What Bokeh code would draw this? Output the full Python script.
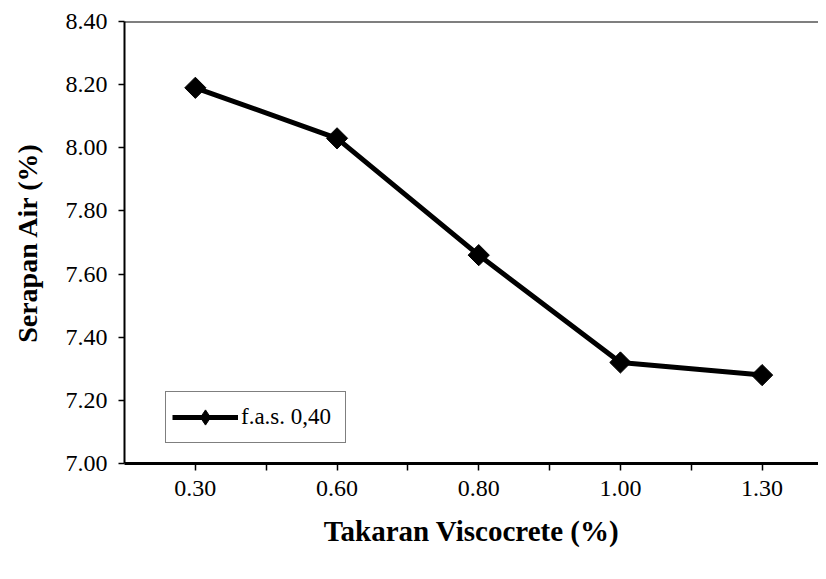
import math
from bokeh.plotting import figure
from bokeh.models import (ColumnDataSource, FixedTicker, Range1d, Legend, LegendItem, Span)
from bokeh.embed import file_html
from bokeh.resources import INLINE

# data
takaran = ["0.30", "0.60", "0.80", "1.00", "1.30"]
serapan = [8.19, 8.03, 7.66, 7.32, 7.28]
y_ticks = [7.00, 7.20, 7.40, 7.60, 7.80, 8.00, 8.20, 8.40]
series_name = "f.a.s. 0,40"
x_title = "Takaran Viscocrete (%)"
y_title = "Serapan Air (%)"

FONT = "Liberation Serif"

pos = list(range(len(takaran)))
src = ColumnDataSource(dict(x=pos, y=serapan))

p = figure(width=818, height=565, output_backend="svg", toolbar_location=None,
           x_range=Range1d(-0.5, 4.398), y_range=Range1d(7.0, 8.4),
           min_border_left=124, min_border_right=0, min_border_top=21, min_border_bottom=102)
p.background_fill_color = "white"
p.border_fill_color = "white"
p.outline_line_color = None
p.xgrid.grid_line_color = None
p.ygrid.grid_line_color = None

ln = p.line("x", "y", source=src, line_color="black", line_width=5)
mk = p.scatter("x", "y", source=src, marker="square", size=15, angle=math.pi / 4,
               fill_color="black", line_color="black")
# legend-only marker (draws nothing in the plot)
leg_src = ColumnDataSource(dict(x=[math.nan], y=[math.nan]))
leg_mk = p.scatter("x", "y", source=leg_src, marker="diamond", size=17,
                   fill_color="black", line_color="black")

# top border of plot area
p.add_layout(Span(location=8.4, dimension="width", line_color="black", line_width=2))

# x axis
xt = [i * 0.5 for i in range(0, 2 * len(takaran) - 1)]
p.xaxis.ticker = FixedTicker(ticks=xt)
overrides = {}
for t in xt:
    if abs(t - round(t)) < 1e-9:
        overrides[t] = takaran[int(round(t))]
    else:
        overrides[t] = ""
p.xaxis.major_label_overrides = overrides
p.xaxis.minor_tick_line_color = None
p.xaxis.major_tick_in = 0
p.xaxis.major_tick_out = 7
p.xaxis.major_tick_line_width = 1.5
p.xaxis.axis_line_width = 3
p.xaxis.axis_line_color = "black"
p.xaxis.major_tick_line_color = "black"
p.xaxis.major_label_standoff = 10
p.xaxis.major_label_text_font = FONT
p.xaxis.major_label_text_font_size = "24px"
p.xaxis.major_label_text_color = "black"
p.xaxis.axis_label = x_title
p.xaxis.axis_label_text_font = FONT
p.xaxis.axis_label_text_font_style = "bold"
p.xaxis.axis_label_text_font_size = "29px"
p.xaxis.axis_label_text_color = "black"
p.xaxis.axis_label_standoff = 16

# y axis
p.yaxis.ticker = FixedTicker(ticks=y_ticks)
p.yaxis.major_label_overrides = {t: f"{t:.2f}" for t in y_ticks}
p.yaxis.minor_tick_line_color = None
p.yaxis.major_tick_in = 0
p.yaxis.major_tick_out = 6
p.yaxis.major_tick_line_width = 1.5
p.yaxis.axis_line_width = 2
p.yaxis.axis_line_color = "black"
p.yaxis.major_tick_line_color = "black"
p.yaxis.major_label_standoff = 11
p.yaxis.major_label_text_font = FONT
p.yaxis.major_label_text_font_size = "24px"
p.yaxis.major_label_text_color = "black"
p.yaxis.axis_label = y_title
p.yaxis.axis_label_text_font = FONT
p.yaxis.axis_label_text_font_style = "bold"
p.yaxis.axis_label_text_font_size = "28px"
p.yaxis.axis_label_text_color = "black"
p.yaxis.axis_label_standoff = 20

legend = Legend(items=[LegendItem(label=series_name, renderers=[ln, leg_mk])],
                location=(41, 20), margin=0, padding=6, spacing=0,
                glyph_width=66, glyph_height=38, label_height=38, label_standoff=3,
                label_width=98,
                label_text_font=FONT, label_text_font_size="23px", label_text_color="black",
                border_line_color="black", border_line_width=1,
                background_fill_color="white", background_fill_alpha=1.0)
p.add_layout(legend)

open("out.html", "w").write(file_html(p, INLINE))
